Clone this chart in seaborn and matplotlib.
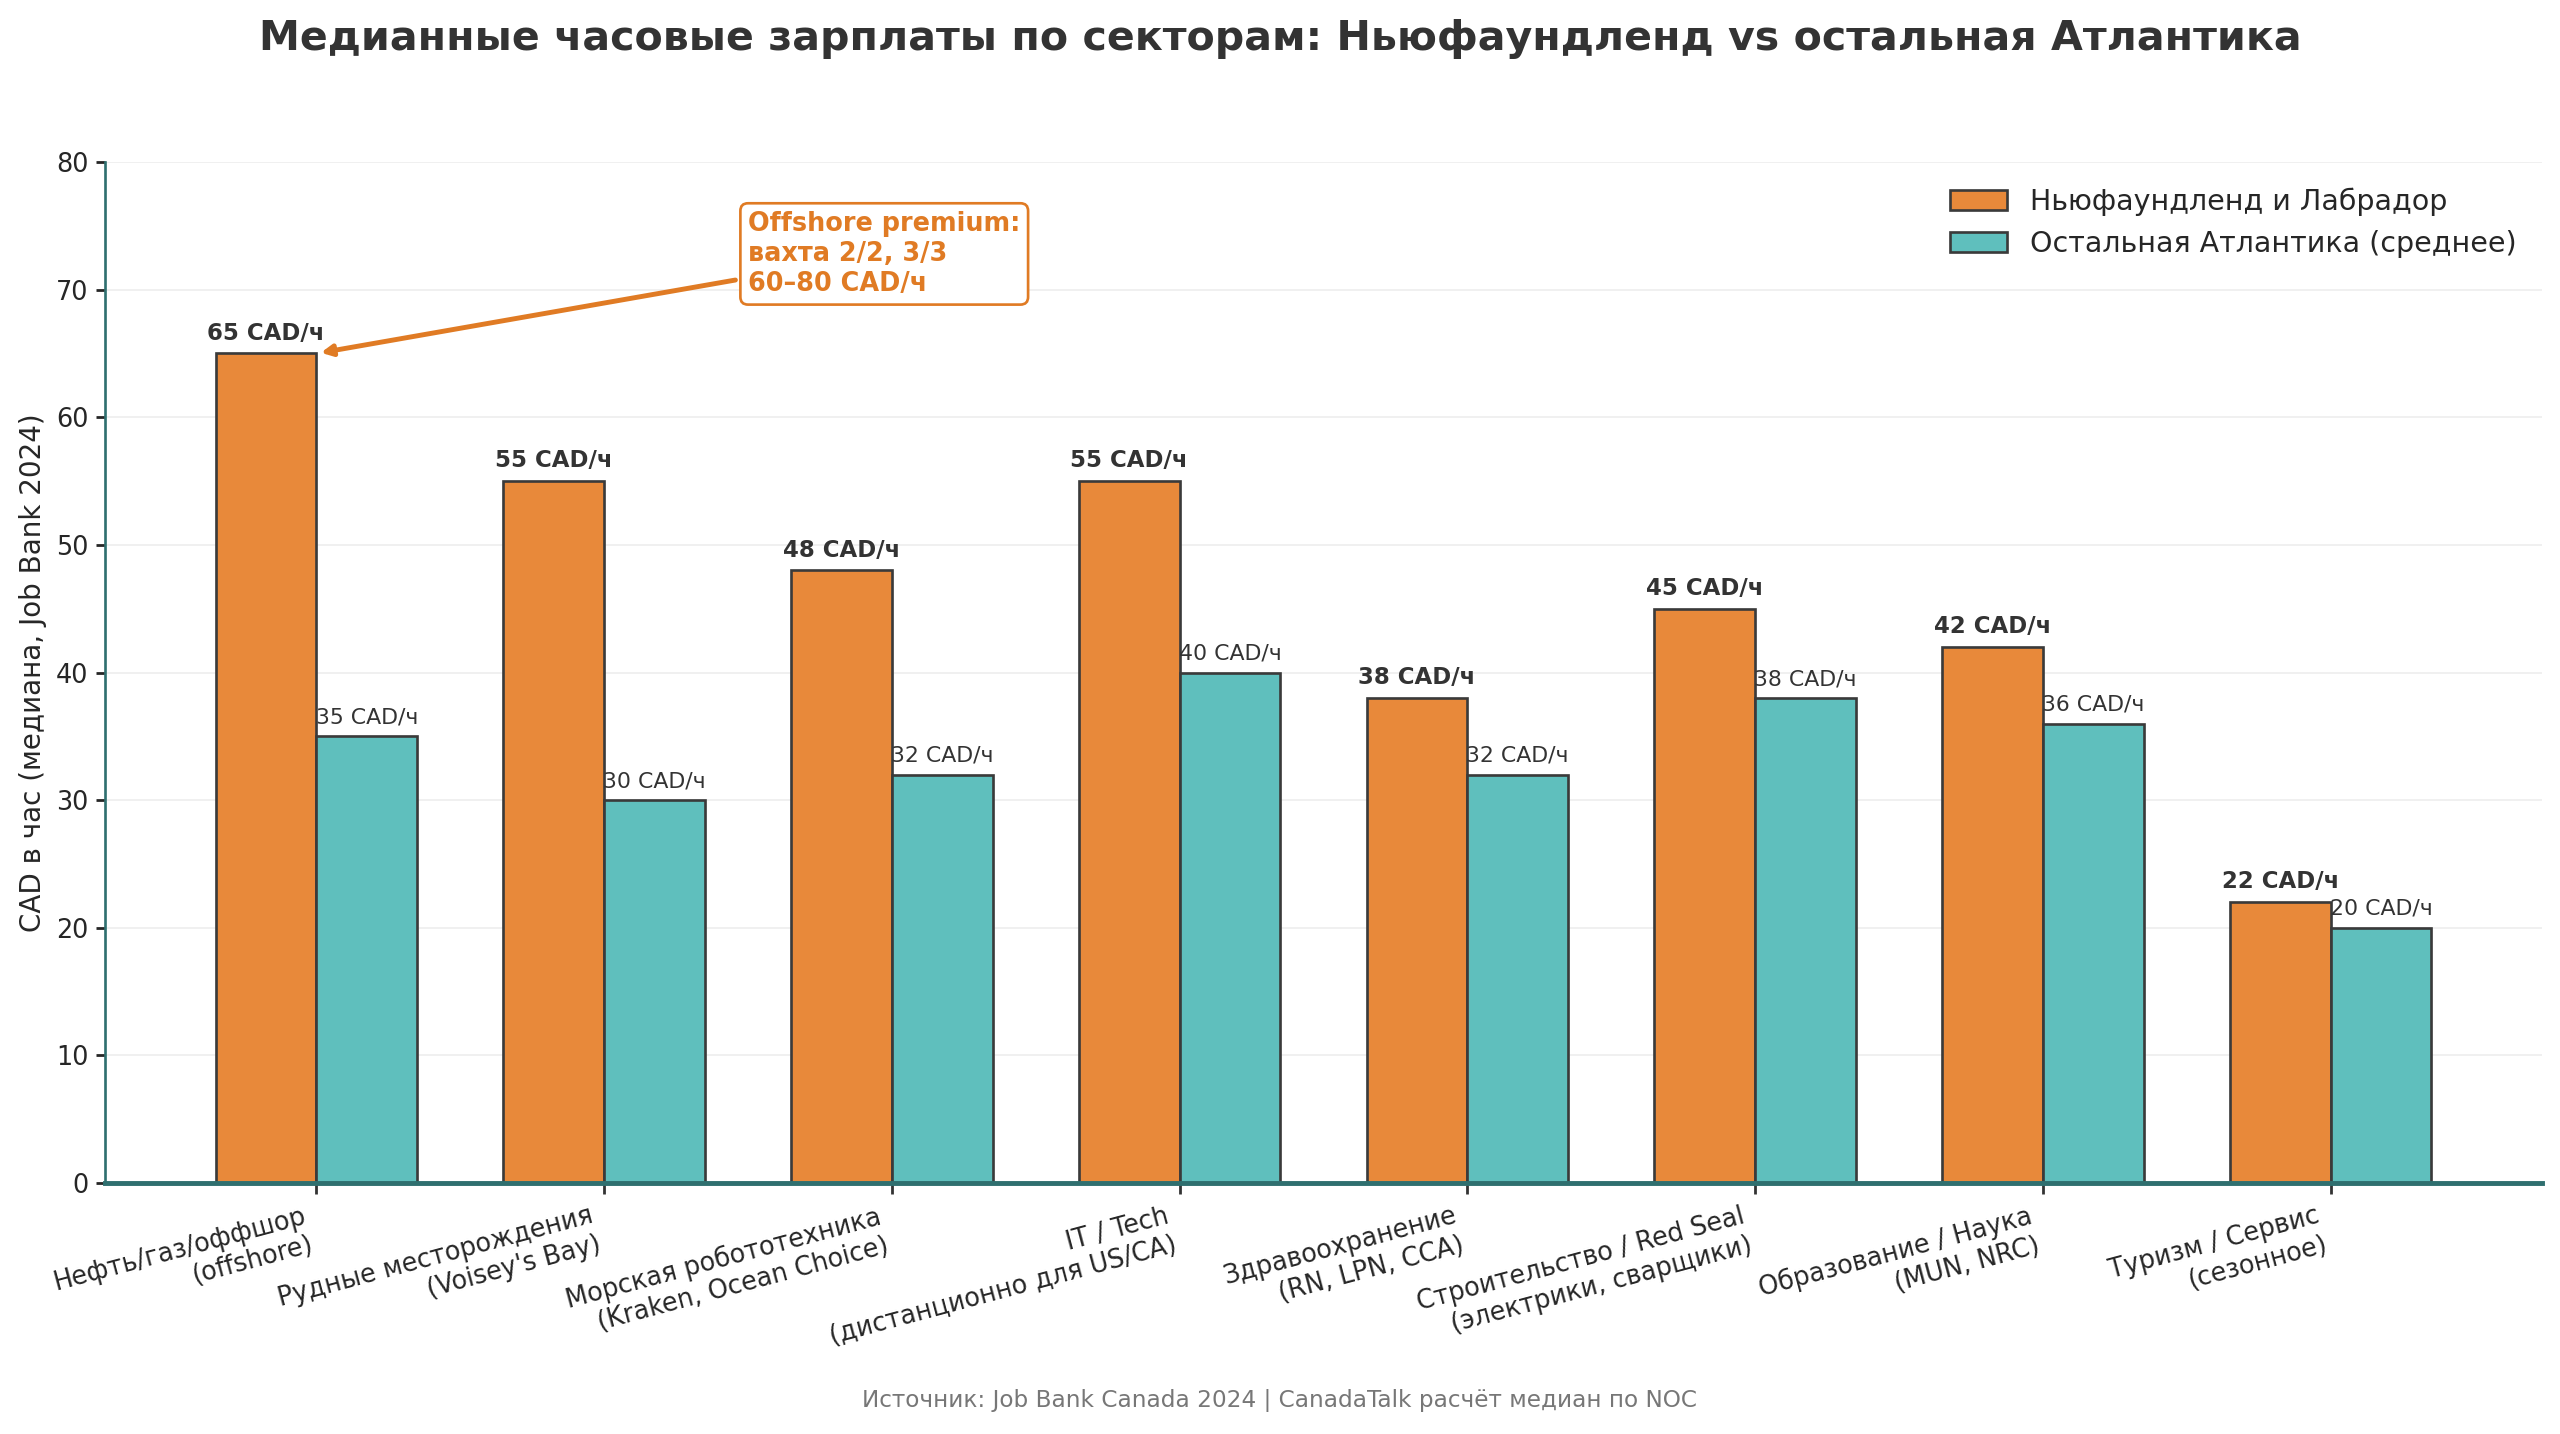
import numpy as np
import matplotlib
matplotlib.use("Agg")
import matplotlib.pyplot as plt
import seaborn as sns
import pandas as pd

sectors = [
    "Нефть/газ/оффшор\n(offshore)",
    "Рудные месторождения\n(Voisey's Bay)",
    "Морская робототехника\n(Kraken, Ocean Choice)",
    "IT / Tech\n(дистанционно для US/CA)",
    "Здравоохранение\n(RN, LPN, CCA)",
    "Строительство / Red Seal\n(электрики, сварщики)",
    "Образование / Наука\n(MUN, NRC)",
    "Туризм / Сервис\n(сезонное)",
]
nl_wages = [65, 55, 48, 55, 38, 45, 42, 22]
atl_wages = [35, 30, 32, 40, 32, 38, 36, 20]
series_names = ["Ньюфаундленд и Лабрадор", "Остальная Атлантика (среднее)"]
colors = ["#E8893A", "#5FBFBD"]

df = pd.DataFrame({
    "sector": sectors * 2,
    "wage": nl_wages + atl_wages,
    "region": [series_names[0]] * len(sectors) + [series_names[1]] * len(sectors),
})

sns.set_theme(style="white")
plt.rcParams["font.family"] = ["DejaVu Sans"]

fig, ax = plt.subplots(figsize=(16, 8.9625), dpi=160)

sns.barplot(
    data=df, x="sector", y="wage", hue="region",
    palette=colors, width=0.7, saturation=1,
    edgecolor="#3a3a3a", linewidth=1.2, ax=ax,
)

# value labels
for i, container in enumerate(ax.containers):
    bold = i == 0
    for bar in container:
        h = bar.get_height()
        ax.text(bar.get_x() + bar.get_width() / 2, h + 0.7, f"{h:.0f} CAD/ч",
                ha="center", va="bottom", fontsize=10.3 if bold else 9.9,
                fontweight="bold" if bold else "normal", color="#333333")

ax.annotate(
    "Offshore premium:\nвахта 2/2, 3/3\n60–80 CAD/ч",
    xy=(0.0, 65), xytext=(1.5, 72.8),
    ha="left", va="center", fontsize=11.5, fontweight="bold", color="#E07B24",
    bbox=dict(boxstyle="round,pad=0.3", fc="white", ec="#E07B24", lw=1.2),
    arrowprops=dict(arrowstyle="-|>", color="#E07B24", lw=2.2, mutation_scale=10),
)

n = len(sectors)
ax.set_xlim(-0.35 - 0.05 * (n - 1 + 0.7), n - 1 + 0.35 + 0.05 * (n - 1 + 0.7))
ax.set_ylim(0, 80)
ax.set_yticks(range(0, 81, 10))
ax.set_xlabel("")
ax.set_ylabel("CAD в час (медиана, Job Bank 2024)", fontsize=12.5)
fig.suptitle("Медианные часовые зарплаты по секторам: Ньюфаундленд vs остальная Атлантика",
             fontsize=18.5, fontweight="bold", color="#333333", x=0.5, y=0.987, va="top")
ax.tick_params(axis="x", labelsize=11.5, length=5, pad=4, color="#333333", bottom=True)
ax.tick_params(axis="y", labelsize=11.5, length=4, left=True)
plt.setp(ax.get_xticklabels(), rotation=15, ha="right")

ax.yaxis.grid(True, color="#e8e8e8", lw=0.8, alpha=0.7)
ax.set_axisbelow(True)
sns.despine(ax=ax)
ax.spines["left"].set_color("#2F6F6F")
ax.spines["left"].set_linewidth(1.2)
ax.spines["bottom"].set_color("#2F6F6F")
ax.spines["bottom"].set_linewidth(2.2)

leg = ax.legend(loc="upper right", frameon=False, fontsize=12.8, title=None)

fig.text(0.5, 0.015, "Источник: Job Bank Canada 2024 | CanadaTalk расчёт медиан по NOC",
         ha="center", va="bottom", fontsize=10.4, color="#777777")

fig.subplots_adjust(left=0.041, right=0.993, top=0.887, bottom=0.175)
fig.savefig("out.png", dpi=160)
